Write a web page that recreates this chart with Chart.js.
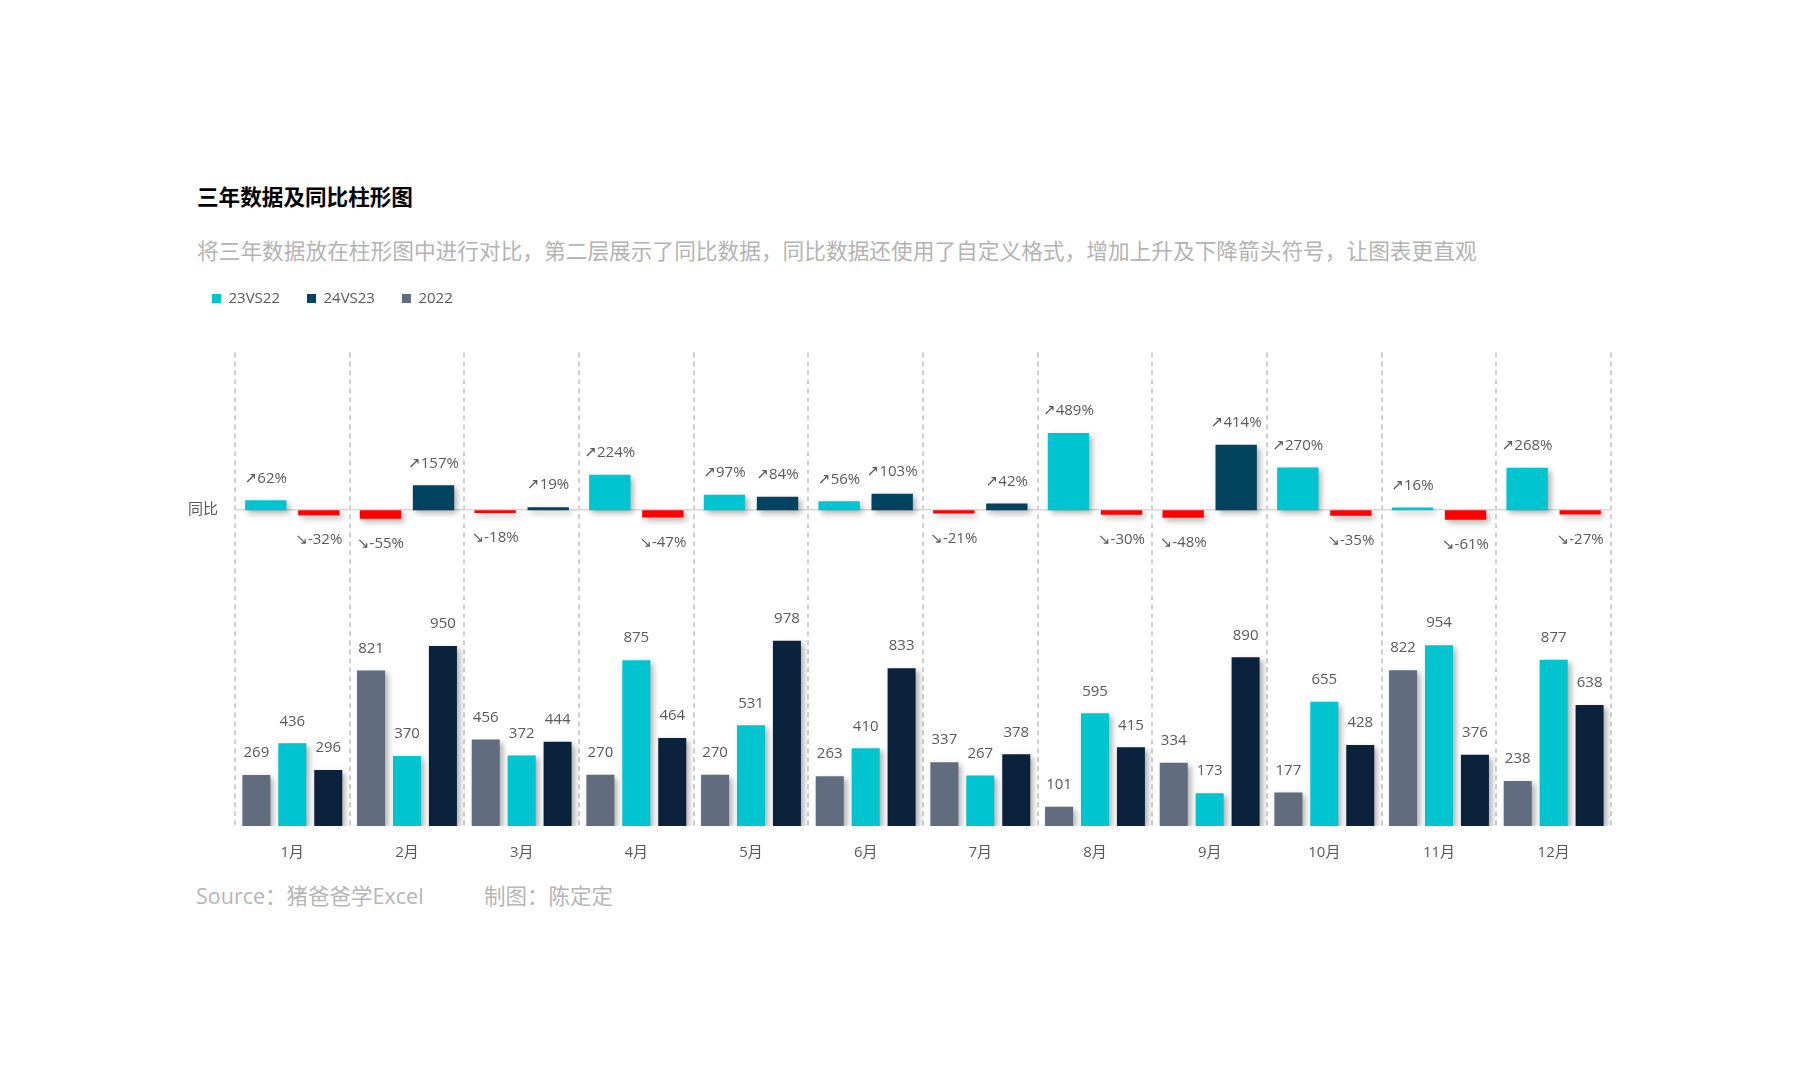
<!DOCTYPE html>
<html>
<head>
<meta charset="utf-8">
<script src="https://cdn.jsdelivr.net/npm/chart.js@4.4.1/dist/chart.umd.min.js"></script>
<style>
  html, body { margin: 0; padding: 0; background: #ffffff; }
  body { width: 1815px; height: 1080px; position: relative; overflow: hidden;
         font-family: "Open Sans", "Noto Sans CJK SC", sans-serif; }
  .txt { position: absolute; white-space: nowrap; }
  #title { left: 197px; top: 181px; line-height: 30px; font-size: 21.6px; font-weight: 700; color: #000;
           font-family: "Noto Sans CJK SC", sans-serif; }
  #subtitle { left: 197px; top: 235px; line-height: 30px; font-size: 21.7px; color: #b3b3b3;
              font-family: "Noto Sans CJK SC", sans-serif; }
  .src { top: 881px; line-height: 30px; font-size: 21.5px; color: #b5b5b5; }
  .cv { position: absolute; left: 0; top: 264px; }
</style>
</head>
<body>
<div id="title" class="txt">三年数据及同比柱形图</div>
<div id="subtitle" class="txt">将三年数据放在柱形图中进行对比，第二层展示了同比数据，同比数据还使用了自定义格式，增加上升及下降箭头符号，让图表更直观</div>
<div class="txt src" style="left:196px">Source：猪爸爸学Excel</div>
<div class="txt src" style="left:484px">制图：陈定定</div>
<canvas id="cBottom" class="cv" width="1815" height="620"></canvas>
<canvas id="cTop" class="cv" width="1815" height="620"></canvas>
<script>
// ---- data ----
const months = ['1月','2月','3月','4月','5月','6月','7月','8月','9月','10月','11月','12月'];
const v2022 = [269, 821, 456, 270, 270, 263, 337, 101, 334, 177, 822, 238];
const v2023 = [436, 370, 372, 875, 531, 410, 267, 595, 173, 655, 954, 877];
const v2024 = [296, 950, 444, 464, 978, 833, 378, 415, 890, 428, 376, 638];
const yoy23vs22 = [62, -55, -18, 224, 97, 56, -21, 489, -48, 270, 16, 268];
const yoy24vs23 = [-32, 157, 19, -47, 84, 103, 42, -30, 414, -35, -61, -27];
const seriesNames = ['23VS22', '24VS23', '2022', '2023', '2024'];
const legendNames = ['23VS22', '24VS23', '2022'];
const yoyTickLabel = '同比';

// ---- styles ----
const C_GRAY = '#616c7e';
const C_CYAN = '#00c4cf';
const C_NAVY = '#0b223c';
const C_NAVY_TOP = '#02435f';
const C_RED = '#ff0000';
const TXT = '#595959';
const FONT = '"Open Sans", "DejaVu Sans", "Noto Sans CJK SC", sans-serif';
const NONE = 'rgba(0,0,0,0)';

Chart.defaults.font.family = FONT;
Chart.defaults.color = TXT;

const signColor = (pos) => (ctx) => (ctx.type === 'data' && ctx.raw < 0) ? C_RED : pos;
const legendColors = [C_CYAN, C_NAVY_TOP, C_GRAY];

const shadowPlugin = {
  id: 'barShadow',
  beforeDatasetDraw(chart) {
    const ctx = chart.ctx;
    ctx.save();
    ctx.shadowColor = 'rgba(0,0,0,0.32)';
    ctx.shadowBlur = 6;
    ctx.shadowOffsetX = 3;
    ctx.shadowOffsetY = 3;
  },
  afterDatasetDraw(chart) {
    chart.ctx.restore();
  }
};

const labelPlugin = {
  id: 'valueLabels',
  afterDraw(chart) {
    const ctx = chart.ctx;
    ctx.save();
    ctx.font = '15px ' + FONT;
    ctx.fillStyle = TXT;
    ctx.textAlign = 'center';
    ctx.textBaseline = 'middle';
    chart.data.datasets.forEach((ds, di) => {
      const meta = chart.getDatasetMeta(di);
      if (meta.hidden) return;
      meta.data.forEach((el, i) => {
        const v = ds.data[i];
        if (ds.kind === 'pct') {
          if (v >= 0) ctx.fillText('↗' + v + '%', el.x, el.y - 22);
          else ctx.fillText('↘' + v + '%', el.x, el.y + 25);
        } else {
          ctx.fillText(String(v), el.x, el.y - 22);
        }
      });
    });
    ctx.restore();
  }
};

// shared layout so both charts have the same chart area
function makeOptions(visible, catPct, barPct) {
  return {
    responsive: false,
    animation: false,
    devicePixelRatio: 1,
    layout: { padding: { left: 185, right: 204, top: 0, bottom: 18 } },
    datasets: { bar: { categoryPercentage: catPct, barPercentage: barPct } },
    plugins: {
      tooltip: { enabled: false },
      legend: {
        position: 'top',
        align: 'start',
        labels: {
          boxWidth: 9, boxHeight: 9, padding: 27,
          font: { size: 15 }, color: visible ? TXT : NONE,
          generateLabels: () => legendNames.map((name, i) => ({
            text: name,
            fillStyle: visible ? legendColors[i] : NONE,
            strokeStyle: NONE,
            fontColor: visible ? TXT : NONE,
            lineWidth: 0,
            hidden: false,
            datasetIndex: i
          }))
        },
        onClick: () => {}
      }
    },
    scales: {
      x: {
        type: 'category',
        position: 'bottom',
        offset: true,
        grid: { display: visible, offset: true, color: '#cfcfcf', lineWidth: 2, drawTicks: false },
        border: { display: false, dash: [5, 4] },
        ticks: { padding: 18, font: { size: 15 }, color: visible ? TXT : NONE },
        afterFit: (s) => { s.height = 40; }
      },
      xSpacer: {
        type: 'category',
        position: 'top',
        grid: { display: false, drawTicks: false },
        border: { display: false },
        ticks: { display: false },
        afterFit: (s) => { s.height = 36.2; }
      },
      y: {
        display: false,
        min: 0, max: 2500
      },
      y1: {
        position: 'left',
        min: -2000, max: 1000,
        ticks: {
          stepSize: 1000, padding: 17, font: { size: 15 }, color: visible ? TXT : NONE,
          callback: (v) => v === 0 ? yoyTickLabel : ''
        },
        grid: {
          display: visible,
          drawTicks: false, lineWidth: 1.5,
          color: (ctx) => (ctx.tick && ctx.tick.value === 0) ? '#d9d9d9' : NONE
        },
        border: { display: false },
        afterFit: (s) => { s.width = 50; }
      }
    }
  };
}

// bottom layer: yearly values
new Chart(document.getElementById('cBottom'), {
  type: 'bar',
  data: {
    labels: months,
    datasets: [
      { label: seriesNames[2], data: v2022, backgroundColor: C_GRAY, yAxisID: 'y', kind: 'val' },
      { label: seriesNames[3], data: v2023, backgroundColor: C_CYAN, yAxisID: 'y', kind: 'val' },
      { label: seriesNames[4], data: v2024, backgroundColor: C_NAVY, yAxisID: 'y', kind: 'val' }
    ]
  },
  options: makeOptions(true, 0.94, 0.78),
  plugins: [shadowPlugin, labelPlugin]
});

// top layer: year-over-year ratios (transparent canvas on top)
new Chart(document.getElementById('cTop'), {
  type: 'bar',
  data: {
    labels: months,
    datasets: [
      { label: seriesNames[0], data: yoy23vs22, backgroundColor: signColor(C_CYAN), yAxisID: 'y1', kind: 'pct' },
      { label: seriesNames[1], data: yoy24vs23, backgroundColor: signColor(C_NAVY_TOP), yAxisID: 'y1', kind: 'pct' }
    ]
  },
  options: makeOptions(false, 0.925, 0.78),
  plugins: [shadowPlugin, labelPlugin]
});
</script>
</body>
</html>
